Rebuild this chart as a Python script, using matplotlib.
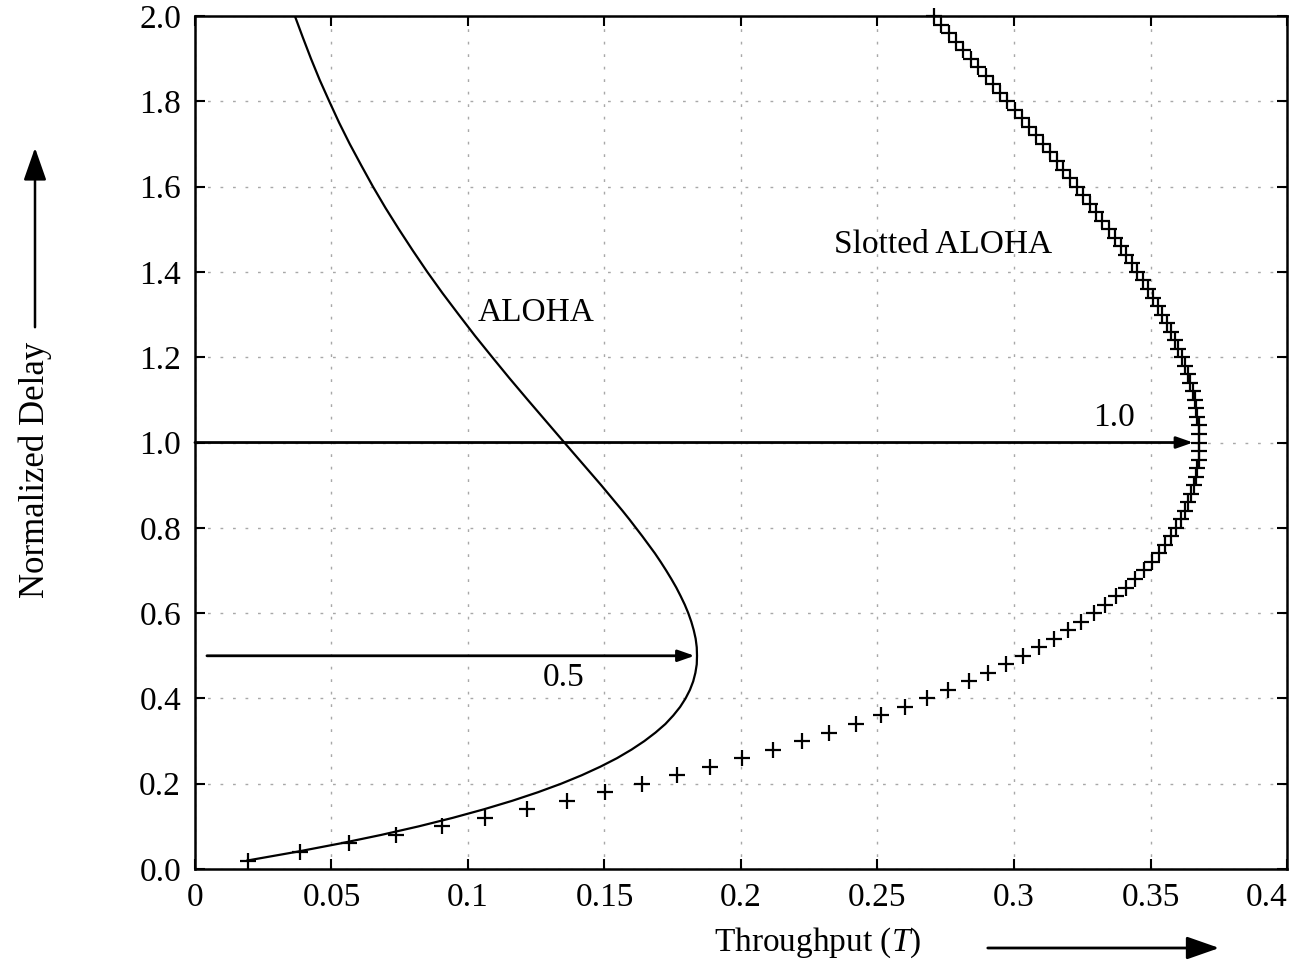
import matplotlib
matplotlib.use("Agg")
import matplotlib.pyplot as plt

# Offered load G (plotted on the vertical "Normalized Delay" axis)
slotted_G = [round(0.02 * k, 2) for k in range(1, 101)]
slotted_T = [0.0196, 0.0384, 0.0565, 0.0738, 0.0905, 0.1064, 0.1217, 0.1363, 0.1503, 0.1637,
             0.1766, 0.1888, 0.2005, 0.2116, 0.2222, 0.2324, 0.2420, 0.2512, 0.2599, 0.2681,
             0.2760, 0.2834, 0.2904, 0.2970, 0.3033, 0.3092, 0.3147, 0.3199, 0.3247, 0.3293,
             0.3335, 0.3375, 0.3411, 0.3445, 0.3476, 0.3505, 0.3531, 0.3554, 0.3576, 0.3595,
             0.3612, 0.3626, 0.3639, 0.3650, 0.3659, 0.3666, 0.3672, 0.3676, 0.3678, 0.3679,
             0.3678, 0.3676, 0.3672, 0.3668, 0.3662, 0.3654, 0.3646, 0.3636, 0.3626, 0.3614,
             0.3602, 0.3588, 0.3574, 0.3559, 0.3543, 0.3526, 0.3509, 0.3491, 0.3472, 0.3452,
             0.3432, 0.3412, 0.3391, 0.3369, 0.3347, 0.3324, 0.3301, 0.3278, 0.3254, 0.3230,
             0.3206, 0.3181, 0.3156, 0.3131, 0.3106, 0.3080, 0.3054, 0.3028, 0.3002, 0.2975,
             0.2949, 0.2922, 0.2896, 0.2869, 0.2842, 0.2815, 0.2788, 0.2761, 0.2734, 0.2707]

aloha_G = ([round(0.02 * k, 2) for k in range(1, 51)] +
           [round(1.0 + 0.05 * k, 2) for k in range(1, 21)])
aloha_T = [0.0192, 0.0369, 0.0532, 0.0682, 0.0819, 0.0944, 0.1058, 0.1162, 0.1256, 0.1341,
           0.1417, 0.1485, 0.1546, 0.1599, 0.1646, 0.1687, 0.1723, 0.1752, 0.1777, 0.1797,
           0.1813, 0.1825, 0.1833, 0.1838, 0.1839, 0.1838, 0.1834, 0.1827, 0.1818, 0.1807,
           0.1794, 0.1779, 0.1763, 0.1745, 0.1726, 0.1706, 0.1685, 0.1662, 0.1639, 0.1615,
           0.1591, 0.1566, 0.1540, 0.1514, 0.1488, 0.1461, 0.1434, 0.1407, 0.1380, 0.1353,
           0.1286, 0.1219, 0.1153, 0.1089, 0.1026, 0.0966, 0.0907, 0.0851, 0.0798, 0.0747,
           0.0698, 0.0652, 0.0609, 0.0567, 0.0528, 0.0492, 0.0457, 0.0425, 0.0395, 0.0366]

x_ticks = [0, 0.05, 0.1, 0.15, 0.2, 0.25, 0.3, 0.35, 0.4]
x_tick_labels = ["0", "0.05", "0.1", "0.15", "0.2", "0.25", "0.3", "0.35", "0.4"]
y_ticks = [0.0, 0.2, 0.4, 0.6, 0.8, 1.0, 1.2, 1.4, 1.6, 1.8, 2.0]
y_tick_labels = ["0.0", "0.2", "0.4", "0.6", "0.8", "1.0", "1.2", "1.4", "1.6", "1.8", "2.0"]

# peak annotations: (G level, peak throughput, label)
peak_levels = [1.0, 0.5]
peak_tips = [0.3656, 0.1830]
peak_starts = [0.0, 0.0044]
peak_labels = ["1.0", "0.5"]

FONT = "Liberation Serif"
plt.rcParams["font.family"] = [FONT, "DejaVu Serif"]
plt.rcParams["mathtext.fontset"] = "custom"
plt.rcParams["mathtext.rm"] = "Liberation Serif"
plt.rcParams["mathtext.it"] = "Liberation Serif:italic"

FS = 24

fig = plt.figure(figsize=(12.97, 9.64), dpi=100)
ax = fig.add_axes([0.1503, 0.0985, 0.8420, 0.8849])

ax.plot(aloha_T, aloha_G, color="black", lw=1.6)
ax.plot(slotted_T, slotted_G, linestyle="none", marker="+", color="black",
        markersize=11, markeredgewidth=1.6, clip_on=False)

ax.set_xlim(0, 0.4)
ax.set_ylim(0, 2.0)
ax.set_xticks(x_ticks)
ax.set_xticklabels(x_tick_labels)
ax.set_yticks(y_ticks)
ax.set_yticklabels(y_tick_labels)
ax.tick_params(direction="in", length=7, width=1.5, top=True, right=True,
               labelsize=FS, pad=10)
ax.get_xticklabels()[-1].set_horizontalalignment("right")
for sp in ax.spines.values():
    sp.set_linewidth(1.8)

ax.grid(True, color="#a8a8a8", linestyle=(0, (2, 7)), linewidth=1.0)
ax.set_axisbelow(True)

for lvl, tip, st in zip(peak_levels, peak_tips, peak_starts):
    ax.annotate("", xy=(tip, lvl), xytext=(st, lvl),
                arrowprops=dict(arrowstyle="-|>,head_length=1.0,head_width=0.35",
                                lw=2.0, color="black", shrinkA=0, shrinkB=0))

ax.text(0.3366, 1.057, peak_labels[0], fontsize=FS, ha="center", va="center")
ax.text(0.135, 0.448, peak_labels[1], fontsize=FS, ha="center", va="center")
ax.text(0.125, 1.304, "ALOHA", fontsize=FS, ha="center", va="center")
ax.text(0.274, 1.463, "Slotted ALOHA", fontsize=FS, ha="center", va="center")

# axis labels with direction arrows
fig.text(818 / 1297, 1 - 943 / 964, "Throughput ($\\mathit{T}$)", fontsize=FS,
         ha="center", va="center")
fig.text(35 / 1297, 1 - 470 / 964, "Normalized Delay", fontsize=FS + 1, rotation=90,
         ha="center", va="center")
fig.patches.append(matplotlib.patches.FancyArrowPatch(
    (985 / 1297, 1 - 948 / 964), (1222 / 1297, 1 - 948 / 964),
    transform=fig.transFigure, arrowstyle="-|>,head_length=1.0,head_width=0.35",
    lw=2.0, color="black", mutation_scale=20))
fig.patches.append(matplotlib.patches.FancyArrowPatch(
    (35 / 1297, 1 - 330 / 964), (35 / 1297, 1 - 145 / 964),
    transform=fig.transFigure, arrowstyle="-|>,head_length=1.0,head_width=0.35",
    lw=1.8, color="black", mutation_scale=20))

fig.savefig("out.png", dpi=100)
